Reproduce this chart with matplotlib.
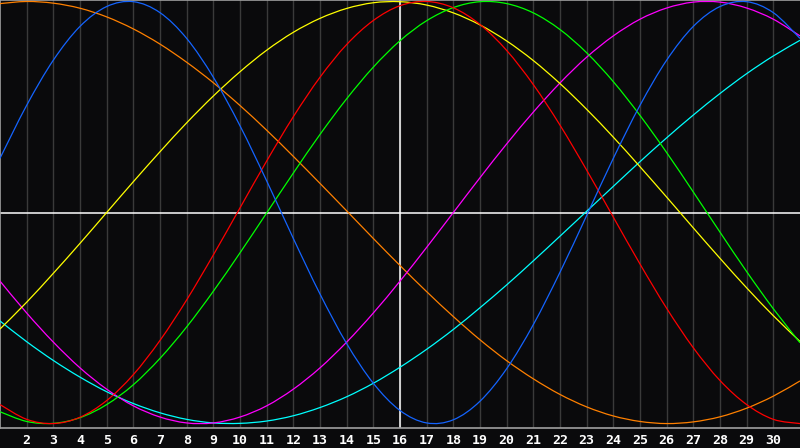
import matplotlib
matplotlib.use("Agg")
import matplotlib.pyplot as plt
from matplotlib.path import Path
from matplotlib.patches import PathPatch

days = list(range(1, 32))
tick_days = list(range(2, 31))
tick_labels = [str(d) for d in tick_days]

blue = [0.257, 0.508, 0.722, 0.882, 0.976, 0.999, 0.947, 0.825, 0.641, 0.411,
        0.150, -0.123, -0.386, -0.621, -0.809, -0.938, -0.997, -0.982, -0.894, -0.740,
        -0.531, -0.283, -0.014, 0.257, 0.508, 0.722, 0.882, 0.976, 0.999, 0.947, 0.825]
orange = [0.990, 1.000, 0.992, 0.968, 0.927, 0.870, 0.798, 0.712, 0.615, 0.507,
          0.390, 0.266, 0.138, 0.008, -0.123, -0.251, -0.375, -0.493, -0.603, -0.702,
          -0.788, -0.862, -0.921, -0.964, -0.990, -1.000, -0.992, -0.968, -0.927, -0.870, -0.798]
yellow = [-0.552, -0.425, -0.288, -0.146, 0.000, 0.146, 0.288, 0.425, 0.552, 0.667,
          0.769, 0.854, 0.920, 0.967, 0.994, 0.999, 0.983, 0.946, 0.889, 0.813,
          0.720, 0.611, 0.489, 0.357, 0.217, 0.073, -0.073, -0.217, -0.357, -0.489, -0.611]
red = [-0.910, -0.980, -1.000, -0.970, -0.891, -0.768, -0.606, -0.414, -0.201, 0.022,
       0.244, 0.454, 0.641, 0.796, 0.910, 0.980, 1.000, 0.970, 0.891, 0.768,
       0.606, 0.414, 0.201, -0.022, -0.244, -0.454, -0.641, -0.796, -0.910, -0.980, -1.000]
green = [-0.944, -0.990, -0.999, -0.972, -0.910, -0.816, -0.691, -0.542, -0.373, -0.191,
         -0.002, 0.187, 0.370, 0.539, 0.689, 0.814, 0.909, 0.971, 0.999, 0.990,
         0.946, 0.867, 0.757, 0.620, 0.460, 0.284, 0.097, -0.093, -0.280, -0.456, -0.617]
magenta = [-0.325, -0.476, -0.614, -0.736, -0.837, -0.916, -0.969, -0.997, -0.997, -0.969,
           -0.916, -0.837, -0.736, -0.614, -0.476, -0.325, -0.165, 0.000, 0.165, 0.325,
           0.476, 0.614, 0.736, 0.837, 0.916, 0.969, 0.997, 0.997, 0.969, 0.916, 0.837]
cyan = [-0.514, -0.612, -0.701, -0.780, -0.849, -0.905, -0.949, -0.980, -0.997, -0.999,
        -0.988, -0.963, -0.924, -0.873, -0.809, -0.733, -0.648, -0.554, -0.451, -0.343,
        -0.229, -0.112, 0.006, 0.124, 0.241, 0.354, 0.462, 0.564, 0.658, 0.742, 0.816]

series = [
    (orange, "#ff8000"),
    (cyan, "#00ffff"),
    (magenta, "#ff00ff"),
    (yellow, "#ffff00"),
    (green, "#00ff00"),
    (red, "#ff0000"),
    (blue, "#1464ff"),
]


def smooth_path(xs, ys):
    """Catmull-Rom spline through the data points, as cubic Bezier segments."""
    n = len(xs)
    verts = [(xs[0], ys[0])]
    codes = [Path.MOVETO]
    for i in range(n - 1):
        i0 = max(i - 1, 0)
        i3 = min(i + 2, n - 1)
        c1 = (xs[i] + (xs[i + 1] - xs[i0]) / 6.0, ys[i] + (ys[i + 1] - ys[i0]) / 6.0)
        c2 = (xs[i + 1] - (xs[i3] - xs[i]) / 6.0, ys[i + 1] - (ys[i3] - ys[i]) / 6.0)
        verts += [c1, c2, (xs[i + 1], ys[i + 1])]
        codes += [Path.CURVE4, Path.CURVE4, Path.CURVE4]
    return Path(verts, codes)


bg = "#0a0a0c"
fig = plt.figure(figsize=(8, 4.48), dpi=100, facecolor=bg)
ax = fig.add_axes([0, 20 / 448, 1, 428 / 448])
ax.set_facecolor(bg)

ax.set_xlim(1, 31)
ax.set_ylim(-1.021, 1.007)

for d in tick_days:
    ax.axvline(d, color="#3a3a3a", lw=1.0, zorder=1)
ax.axvline(16, color="#ffffff", lw=1.1, zorder=2)
ax.axhline(0, color="#ffffff", lw=1.1, zorder=2)

for vals, col in series:
    patch = PathPatch(smooth_path(days, vals), facecolor="none", edgecolor=col,
                      lw=0.9, zorder=3)
    ax.add_patch(patch)

ax.set_yticks([])
ax.set_xticks(tick_days)
ax.set_xticklabels(tick_labels)
ax.tick_params(axis="x", length=0, pad=4, colors="white", labelsize=9.5)
for lbl in ax.get_xticklabels():
    lbl.set_fontweight("bold")
    lbl.set_family("DejaVu Sans Mono")

for side in ["left", "top", "bottom"]:
    ax.spines[side].set_color("#a0a0a0")
    ax.spines[side].set_linewidth(1.2)
ax.spines["right"].set_visible(False)

fig.savefig("out.png", dpi=100, facecolor=bg)
